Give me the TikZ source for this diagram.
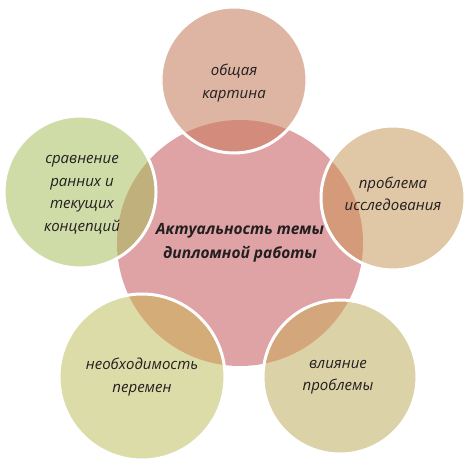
\documentclass[tikz,border=0pt]{standalone}
\usepackage{fontspec}
\setmainfont{Open Sans}
\begin{document}
\begin{tikzpicture}[x=1pt,y=1pt,
  disc/.style={circle, inner sep=0pt, draw=none},
  rim/.style={draw=white, line width=3pt},
  lbl/.style={align=center, text=txt, font=\fontsize{15}{22.5}\selectfont\itshape},
  mainlbl/.style={align=center, text=txt, font=\fontsize{15.5}{24}\selectfont\bfseries\itshape}]
\definecolor{txt}{HTML}{231F20}
\definecolor{cC}{HTML}{DFA3A6}
\definecolor{cT}{HTML}{DEB4A2}
\definecolor{oT}{HTML}{D38C7C}
\definecolor{cR}{HTML}{E0C7A6}
\definecolor{oR}{HTML}{D59A7A}
\definecolor{cL}{HTML}{CFDCA8}
\definecolor{oL}{HTML}{BFB07C}
\definecolor{cBL}{HTML}{DCDCA9}
\definecolor{oBL}{HTML}{D3AC78}
\definecolor{cBR}{HTML}{DCD2A7}
\definecolor{oBR}{HTML}{D3A67C}
\useasboundingbox (0,0) rectangle (474,463);
% discs
\node[disc, fill=cC, minimum size=246pt] (C) at (240,220) {};
\node[disc, fill=cT, minimum size=146pt] (T) at (234,383) {};
\node[disc, fill=cR, minimum size=144pt] (R) at (393,265) {};
\node[disc, fill=cL, minimum size=152pt] (L) at (80,271) {};
\node[disc, fill=cBL, minimum size=166pt] (BL) at (142,86) {};
\node[disc, fill=cBR, minimum size=154pt] (BR) at (340,86) {};
% overlaps
\begin{scope}
  \clip (C.center) circle (123);
  \fill[oT] (T.center) circle (73);
  \fill[oR] (R.center) circle (72);
  \fill[oL] (L.center) circle (76);
  \fill[oBL] (BL.center) circle (83);
  \fill[oBR] (BR.center) circle (77);
\end{scope}
% white rims
\draw[rim] (T.center) circle (73);
\draw[rim] (R.center) circle (72);
\draw[rim] (L.center) circle (76);
\draw[rim] (BL.center) circle (83);
\draw[rim] (BR.center) circle (77);
% labels
\node[mainlbl] (tC) at (C.center) {Актуальность темы\\дипломной работы};
\node[lbl] (tT) at ([yshift=-3pt]T.center) {общая\\картина};
\node[lbl] (tR) at ([yshift=4pt]R.center) {проблема\\исследования};
\node[lbl] (tL) at ([xshift=2pt,yshift=-3pt]L.center) {сравнение\\ранних и\\текущих\\концепций};
\node[lbl] (tBL) at (BL.center) {необходимость\\перемен};
\node[lbl] (tBR) at ([xshift=-2pt]BR.center) {влияние\\проблемы};
\end{tikzpicture}
\end{document}
